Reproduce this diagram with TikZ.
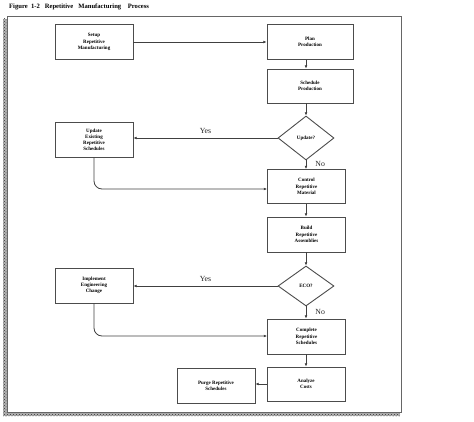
\documentclass[tikz,border=0pt]{standalone}
\usepackage{fontspec}
\setmainfont{Liberation Serif}
\usetikzlibrary{shapes.geometric,arrows.meta,patterns}
\begin{document}
\begin{tikzpicture}[x=1pt,y=-1pt,
  box/.style={draw=black!70, line width=0.9pt, minimum width=78pt, minimum height=35pt, inner sep=0pt, align=center, font=\fontsize{5}{6.3}\selectfont\bfseries},
  dec/.style={draw=black!70, line width=0.9pt, diamond, minimum width=56pt, minimum height=44pt, inner sep=0pt, align=center, font=\fontsize{5}{6.3}\selectfont\bfseries},
  conn/.style={draw=black!75, line width=0.8pt, -{Latex[length=3.2pt,width=2.8pt]}},
  lbl/.style={font=\fontsize{7.8}{8}\selectfont, text=black!85, inner sep=0pt},
  shadowstrip/.style={fill=black!30, postaction={pattern=crosshatch dots, pattern color=black!80}}]
\useasboundingbox (0,0) rectangle (474,422);
% frame with dotted shadow
\path[shadowstrip] (3,19) rectangle (7,416);
\path[shadowstrip] (3,412) rectangle (400,416);
\draw[black!60, line width=1pt] (7,17) rectangle (401,412);
% title
\node[anchor=west, inner sep=0pt, font=\fontsize{6.6}{7}\selectfont\bfseries] (title) at (9,7) {Figure\ \ 1-2\ \ \ Repetitive\ \ \ Manufacturing\ \ \ \ Process};
% nodes
\node[box] (setup) at (94,42) {Setup\\Repetitive\\Manufacturing};
\node[box, minimum width=86pt] (plan) at (310,42) {Plan\\Production};
\node[box, minimum width=86pt, minimum height=34pt] (sched) at (310,86) {Schedule\\Production};
\node[dec] (upd) at (306,138) {Update?};
\node[box, font=\fontsize{5}{5.9}\selectfont\bfseries] (updx) at (94,139.5) {Update\\Existing\\Repetitive\\Schedules};
\node[box, minimum height=34pt] (ctrl) at (306.5,186.5) {Control\\Repetitive\\Material};
\node[box] (build) at (306.5,234.5) {Build\\Repetitive\\Assemblies};
\node[dec, minimum height=40pt] (eco) at (306,286) {ECO?};
\node[box] (impl) at (94,285.5) {Implement\\Engineering\\Change};
\node[box] (compl) at (306.5,336.5) {Complete\\Repetitive\\Schedules};
\node[box, minimum height=34pt] (anal) at (306,384) {Analyze\\Costs};
\node[box] (purge) at (216,385.5) {Purge Repetitive\\Schedules};
% connectors
\draw[conn] (setup.east) -- (plan.west |- setup.east);
\draw[conn] (plan.south -| upd) -- (sched.north -| upd);
\draw[conn] (sched.south -| upd) -- (upd.north);
\draw[conn] (upd.west) -- (updx.east |- upd.west) node[lbl, midway, above=4pt] (yes1) {Yes};
\draw[conn] (upd.south) -- (ctrl.north -| upd) node[lbl, pos=0.45, right=9pt] (no1) {No};
\draw[conn, rounded corners=8pt] (updx.south) |- (ctrl.west |- 0,189);
\draw[conn] (ctrl.south -| upd) -- (build.north -| upd);
\draw[conn] (build.south -| upd) -- (eco.north);
\draw[conn] (eco.west) -- (impl.east |- eco.west) node[lbl, midway, above=4pt] (yes2) {Yes};
\draw[conn] (eco.south) -- (compl.north -| eco) node[lbl, pos=0.45, right=9pt] (no2) {No};
\draw[conn, rounded corners=8pt] (impl.south) |- (compl.west |- 0,336);
\draw[conn] (compl.south -| upd) -- (anal.north -| upd);
\draw[conn] (anal.west) -- (purge.east |- anal.west);
\end{tikzpicture}
\end{document}
